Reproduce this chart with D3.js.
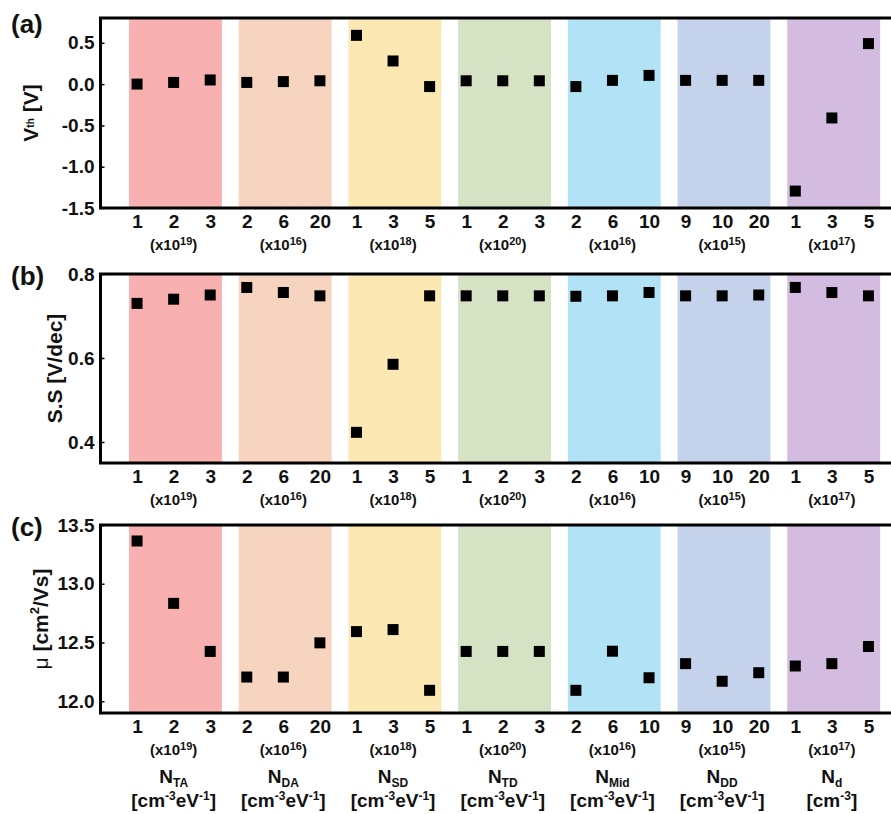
<!DOCTYPE html>
<html>
<head>
<meta charset="utf-8">
<script src="https://cdn.jsdelivr.net/npm/d3@7"></script>
<style>
    body { margin: 0; background: #fff; }
    text { font-family: "Liberation Sans", Arial, sans-serif; font-weight: bold; fill: #111; }
</style>
</head>
<body>
<div id="chart"></div>
<script>
// tick labels along x, 3 per group
const xLabels = ["1","2","3", "2","6","20", "1","3","5", "1","2","3", "2","6","10", "9","10","20", "1","3","5"];
const exponents = ["19","16","18","20","16","15","17"];
const groupSubs = ["TA","DA","SD","TD","Mid","DD","d"];
const groupUnits = [
    ["[cm","-3","eV","-1","]"],
    ["[cm","-3","eV","-1","]"],
    ["[cm","-3","eV","-1","]"],
    ["[cm","-3","eV","-1","]"],
    ["[cm","-3","eV","-1","]"],
    ["[cm","-3","eV","-1","]"],
    ["[cm","-3","]"]
];
const bandColors = ["#f9b0b0","#f7d4bf","#fce8b3","#d5e3c4","#b1e2f5","#c4d3eb","#d4bce0"];

// values
const vth = [0.00, 0.02, 0.05,  0.02, 0.03, 0.04,  0.59, 0.28, -0.03,  0.04, 0.04, 0.04,
             -0.03, 0.045, 0.105,  0.045, 0.045, 0.045,  -1.295, -0.41, 0.49];
const ss  = [0.730, 0.740, 0.750,  0.768, 0.756, 0.748,  0.423, 0.585, 0.748,  0.748, 0.748, 0.748,
             0.747, 0.748, 0.756,  0.748, 0.748, 0.750,  0.768, 0.756, 0.748];
const mu  = [13.364, 12.833, 12.424,  12.206, 12.206, 12.497,  12.593, 12.610, 12.093,  12.424, 12.424, 12.424,
             12.093, 12.426, 12.200,  12.320, 12.170, 12.243,  12.300, 12.320, 12.466];

const width = 891, height = 814;
const left = 100.5;

const svg = d3.select("#chart").append("svg")
    .attr("width", width)
    .attr("height", height);

const xScale = d3.scaleLinear()
    .domain([-1, 21])
    .range([left, 905]);

const panels = [
    { tag: "(a)", data: vth, top: 18, bottom: 208, domain: [-1.5, 0.8], ticks: [-1.5, -1.0, -0.5, 0.0, 0.5], labelY: 33, titleX: 38 },
    { tag: "(b)", data: ss, top: 274, bottom: 463, domain: [0.35, 0.8], ticks: [0.4, 0.6, 0.8], labelY: 285, titleX: 62 },
    { tag: "(c)", data: mu, top: 525, bottom: 713, domain: [11.9, 13.5], ticks: [12.0, 12.5, 13.0, 13.5], labelY: 536, titleX: 48 }
];

// text with alternating normal / shifted parts
function richText(sel, parts, smallSize, shift)
{
    let prev = 0;
    parts.forEach((p, i) => {
        let cur = (i % 2 === 1) ? shift : 0;
        let t = sel.append("tspan").attr("dy", cur - prev).text(p);
        if (i % 2 === 1)
            t.style("font-size", smallSize + "px");
        prev = cur;
    });
}

panels.forEach((p, pi) => {
    let g = svg.append("g");
    let yScale = d3.scaleLinear()
        .domain(p.domain)
        .range([p.bottom, p.top]);

    // colour bands behind the groups
    g.selectAll("rect.band")
        .data(bandColors)
        .enter()
        .append("rect")
        .attr("class", "band")
        .attr("x", (d, i) => xScale(3 * i - 0.22))
        .attr("width", xScale(2.32) - xScale(-0.22))
        .attr("y", p.top)
        .attr("height", p.bottom - p.top)
        .attr("fill", (d) => d);

    // markers
    g.selectAll("rect.pt")
        .data(p.data)
        .enter()
        .append("rect")
        .attr("class", "pt")
        .attr("x", (d, i) => xScale(i) - 5.5)
        .attr("y", (d) => yScale(d) - 5.5)
        .attr("width", 11)
        .attr("height", 11)
        .attr("fill", "#000");

    // y axis, ticks point inward
    let yAxis = g.append("g")
        .attr("transform", `translate(${left}, 0)`)
        .call(d3.axisLeft(yScale)
            .tickValues(p.ticks)
            .tickSize(-4)
            .tickPadding(6)
            .tickFormat((d) => d.toFixed(1)));
    yAxis.select(".domain").remove();
    yAxis.selectAll(".tick line").attr("stroke", "#000").attr("stroke-width", 1.5);
    yAxis.selectAll(".tick text").style("font-size", "19px").attr("fill", "#111");

    // x axis labels
    let xAxis = g.append("g")
        .attr("transform", `translate(0, ${p.bottom})`)
        .call(d3.axisBottom(xScale)
            .tickValues(d3.range(xLabels.length))
            .tickSize(0)
            .tickPadding(7)
            .tickFormat((i) => xLabels[i]));
    xAxis.select(".domain").remove();
    xAxis.selectAll(".tick text").style("font-size", "19px").attr("fill", "#111");

    // multiplier under each group
    exponents.forEach((e, k) => {
        let t = g.append("text")
            .attr("x", xScale(3 * k + 1))
            .attr("y", p.bottom + 42)
            .attr("text-anchor", "middle")
            .style("font-size", "15px");
        richText(t, ["(x10", e, ")"], 11, -5);
    });

    // frame
    g.append("rect")
        .attr("x", left)
        .attr("y", p.top)
        .attr("width", 905 - left)
        .attr("height", p.bottom - p.top)
        .attr("fill", "none")
        .attr("stroke", "#000")
        .attr("stroke-width", 3);

    // panel tag
    g.append("text")
        .attr("x", 11)
        .attr("y", p.labelY)
        .style("font-size", "26px")
        .text(p.tag);

    // y title
    let cy = (p.top + p.bottom) / 2;
    let title = g.append("text")
        .attr("transform", `translate(${p.titleX}, ${cy}) rotate(-90)`)
        .attr("text-anchor", "middle")
        .style("font-size", "21px");
    if (pi === 0)
        richText(title, ["V", "th", " [V]"], 10, -4);
    else if (pi === 1)
        title.text("S.S [V/dec]");
    else
    {
        title.append("tspan").style("font-weight", "normal").text("\u03bc");
        richText(title, [" [cm", "2", "/Vs]"], 13, -9);
    }
});

// group names under the last panel
const lastBottom = panels[2].bottom;
groupSubs.forEach((s, k) => {
    let cx = xScale(3 * k + 1);
    let n = svg.append("text")
        .attr("x", cx)
        .attr("y", lastBottom + 70)
        .attr("text-anchor", "middle")
        .style("font-size", "19px");
    richText(n, ["N", s], 12, 4);

    let u = svg.append("text")
        .attr("x", cx)
        .attr("y", lastBottom + 94)
        .attr("text-anchor", "middle")
        .style("font-size", "19px");
    richText(u, groupUnits[k], 12, -7);
});
</script>
</body>
</html>
